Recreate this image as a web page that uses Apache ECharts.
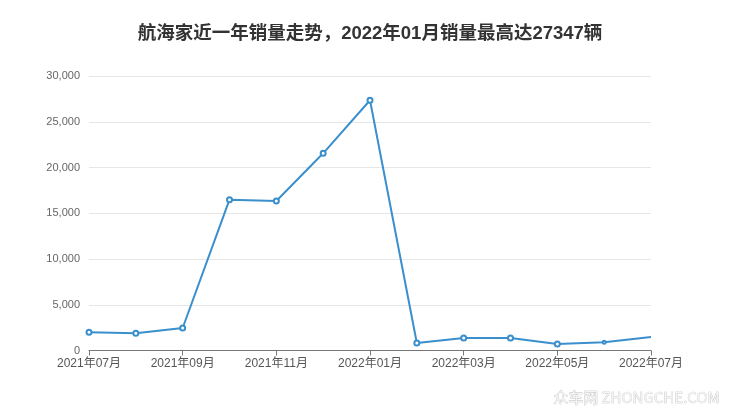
<!DOCTYPE html>
<html>
<head>
<meta charset="utf-8">
<script src="https://cdn.jsdelivr.net/npm/echarts@6/dist/echarts.min.js"></script>
<style>html,body{margin:0;padding:0;background:#fff;}#c{width:740px;height:417px;}</style>
</head>
<body>
<div id="c"></div>
<script>
var titleText = '航海家近一年销量走势，2022年01月销量最高达27347辆';
var categories = ['2021年07月','2021年08月','2021年09月','2021年10月','2021年11月','2021年12月','2022年01月','2022年02月','2022年03月','2022年04月','2022年05月','2022年06月','2022年07月'];
var sales = [1990, 1880, 2460, 16480, 16340, 21550, 27347, 820, 1370, 1370, 710, 900, 1475];
var yTicks = [0, 5000, 10000, 15000, 20000, 25000, 30000];

var chart = echarts.init(document.getElementById('c'));
var data = sales.map(function (v, i) {
  if (i === sales.length - 1) return { value: v, symbolSize: 0 };
  if (i === sales.length - 2) return { value: v, symbolSize: 3 };
  return v;
});
chart.setOption({
  animation: false,
  title: {
    text: titleText, left: 'center', top: 20,
    textStyle: { fontSize: 18.5, fontWeight: 'bold', color: '#333', fontFamily: 'Liberation Sans, Noto Sans CJK SC' }
  },
  grid: { left: 89, right: 89, top: 76, bottom: 66.5 },
  xAxis: {
    type: 'category', data: categories, boundaryGap: false,
    axisLine: { lineStyle: { color: '#777' } },
    axisTick: { interval: 1, length: 5, lineStyle: { color: '#777' } },
    axisLabel: { interval: 1, color: '#555', fontSize: 12, margin: 7, fontFamily: 'Liberation Sans, Noto Sans CJK SC' }
  },
  yAxis: {
    type: 'value', min: yTicks[0], max: yTicks[yTicks.length - 1], interval: 5000,
    axisLine: { show: false }, axisTick: { show: false },
    axisLabel: { color: '#666', fontSize: 11, margin: 9, fontFamily: 'Liberation Sans',
      formatter: function (v) { return v.toLocaleString('en-US'); } },
    splitLine: { lineStyle: { color: '#e6e6e6' } }
  },
  series: [{
    type: 'line', data: data,
    symbol: 'emptyCircle', symbolSize: 5, showAllSymbol: true,
    lineStyle: { color: '#3a8fcc', width: 2 },
    itemStyle: { color: '#3a8fcc', borderWidth: 1.5 }
  }],
  graphic: [{
    type: 'text', right: 20, top: 389,
    style: { text: '众车网 ZHONGCHE.COM', fontSize: 15, fill: '#f4f4f4', stroke: '#bbbbbb', lineWidth: 0.6,
      fontFamily: 'Noto Sans CJK SC' }
  }]
});
</script>
</body>
</html>
